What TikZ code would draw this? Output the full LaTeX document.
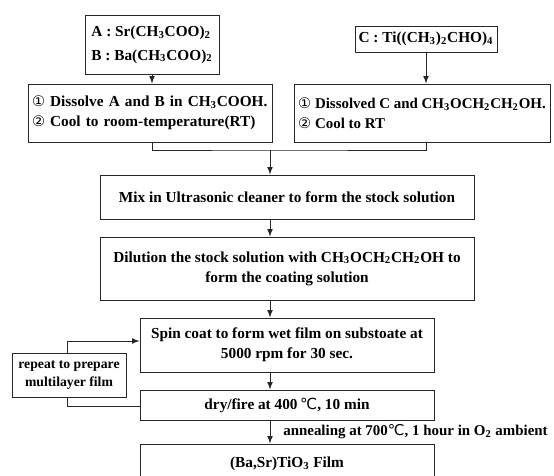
\documentclass[tikz,border=0pt]{standalone}
\usepackage{fontspec}
\setmainfont{Liberation Serif}
\newfontfamily\symfnt{DejaVu Sans}
\usepackage{tikz}
\usetikzlibrary{arrows.meta,calc,positioning}

\newcommand{\sbs}[1]{\textsubscript{#1}}
\newcommand{\cnum}[1]{{\symfnt\mdseries\fontsize{8.3}{8.3}\selectfont #1}}
\newcommand{\degc}{{\symfnt\mdseries ℃}}

\begin{document}
\begin{tikzpicture}[x=0.02cm, y=-0.02cm,
  font=\bfseries\fontsize{8.7}{11.5}\selectfont,
  blk/.style 2 args={draw=black!85, line width=0.5pt, inner sep=0pt,
    minimum width=#1*0.02cm, minimum height=#2*0.02cm, align=center},
  lft/.style={align=left, text width=#1*0.02cm, inner xsep=4*0.02cm},
  lnk/.style={draw=black!85, line width=0.5pt}]
\useasboundingbox (0,0) rectangle (554,476);
% reagenti di partenza
\node[blk={134}{59}, align=left] (srba) at (152,44.5)
  {A : Sr(CH\sbs{3}COO)\sbs{2}\\[2pt]B : Ba(CH\sbs{3}COO)\sbs{2}};
\node[blk={142}{26}] (ti) at (426,39) {C : Ti((CH\sbs{3})\sbs{2}CHO)\sbs{4}};
% dissoluzione
\node[blk={244}{58}, lft=236] (dsa) at (150,113)
  {\cnum{①} Dissolve A and B in CH\sbs{3}COOH.\\\cnum{②} Cool to room-temperature(RT)};
\node[blk={256}{58}, align=left, font=\bfseries\fontsize{8.5}{11.5}\selectfont] (dsc) at (422,113)
  {\cnum{①} Dissolved C and CH\sbs{3}OCH\sbs{2}CH\sbs{2}OH.\\\cnum{②} Cool to RT};
\draw[lnk,-latex] (srba.south) -- (dsa.north -| srba.south);
\draw[lnk,-latex] (ti.south) -- (dsc.north -| ti.south);
% unione delle due soluzioni
\coordinate (spine) at (270,150);
\draw[lnk] (dsa.south -| srba.south) |- (spine) -| (dsc.south -| ti.south);
% catena principale
\node[blk={374}{44}] (mix) at (287,197) {Mix in Ultrasonic cleaner to form the stock solution};
\node[blk={374}{63}] (dil) at (287,268.5)
  {Dilution the stock solution with CH\sbs{3}OCH\sbs{2}CH\sbs{2}OH to\\form the coating solution};
\node[blk={294}{54}] (spin) at (287,345) {Spin coat to form wet film on substoate at\\5000 rpm for 30 sec.};
\node[blk={294}{30}] (dry) at (287,405) {dry/fire at 400\,\degc, 10 min};
\node[blk={294}{40}] (film) at (287,464) {(Ba,Sr)TiO\sbs{3} Film};
\draw[lnk,-latex] (spine) -- (mix.north -| spine);
\foreach \a/\b in {mix/dil, dil/spin, spin/dry}{
  \draw[lnk,-latex] (\a.south -| spine) -- (\b.north -| spine);
}
\draw[lnk,-latex] (dry.south -| spine) -- node[right, xshift=4pt, font=\bfseries\fontsize{8.5}{9}\selectfont] (anl)
  {annealing at 700\degc, 1 hour in O\sbs{2} ambient} (film.north -| spine);
% ciclo multistrato
\node[blk={114}{44}, font=\bfseries\fontsize{7.8}{10.5}\selectfont] (rep) at (69,375)
  {repeat to prepare\\multilayer film};
\coordinate (rt) at (67,341);
\coordinate (rb) at (67,406);
\draw[lnk,-latex] (rep.north -| rt) |- (spin.west |- rt);
\draw[lnk] (rep.south -| rb) |- (dry.west |- rb);
\end{tikzpicture}
\end{document}
